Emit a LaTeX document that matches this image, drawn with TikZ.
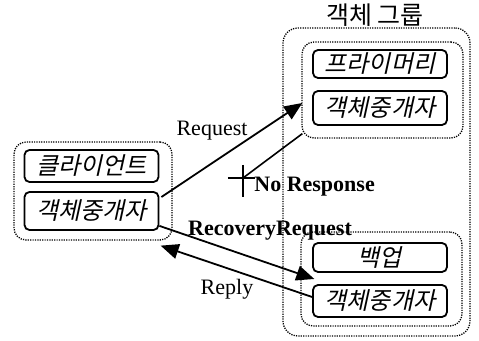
\documentclass[tikz,border=0pt]{standalone}
\usepackage{fontspec}
\setmainfont{Liberation Serif}
\newfontfamily\kor[FakeSlant=0.22]{Noto Sans CJK KR}
\newfontfamily\korup{Noto Sans CJK KR}
\usetikzlibrary{arrows.meta,positioning,calc}

\begin{document}
\begin{tikzpicture}[x=0.5pt, y=-0.5pt,
    box/.style={draw, line width=0.9pt, rounded corners=2.5pt, minimum width=67pt, inner sep=0pt, font=\kor\fontsize{12}{14}\selectfont},
    grp/.style={draw, line width=0.65pt, dash pattern=on 0.6pt off 0.6pt, rounded corners=6pt, inner sep=0pt},
    arr/.style={-{Triangle[length=9pt, width=7.5pt]}, line width=0.9pt},
    lbl/.style={font=\fontsize{11}{13}\selectfont, inner sep=0pt}
]
\useasboundingbox (0,0) rectangle (479,341);

% groups
\node[grp, rounded corners=7.5pt, minimum width=93.5pt, minimum height=154pt] (objgrp) at (376.5,182) {};
\node[font=\korup\fontsize{12.5}{14}\selectfont, inner sep=0pt] (title) at (375,15) {객체 그룹};
\node[grp, minimum width=80.5pt, minimum height=48pt] (pgrp) at (382.5,90) {};
\node[grp, minimum width=80.5pt, minimum height=47pt] (bgrp) at (381.5,279) {};
\node[grp, minimum width=79pt, minimum height=49pt] (cgrp) at (93,191) {};

% boxes
\node[box, minimum height=14pt] (prim) at (380,64) {프라이머리};
\node[box, minimum height=17pt] (pmed) at (380,108) {객체중개자};
\node[box, minimum height=14.5pt] (bak) at (380,257.5) {백업};
\node[box, minimum height=16pt] (bmed) at (380,301) {객체중개자};
\node[box, minimum height=16pt] (cli) at (91.5,166) {클라이언트};
\node[box, minimum height=19pt] (cmed) at (91.5,211) {객체중개자};

% messages
\coordinate (nr) at (243,178);
\draw[arr] ($(cmed.east)+(2,-14)$) -- ($(pgrp.west)+(1,13)$);
\node[lbl] (reqlbl) at (212,131) {Request};
\draw[line width=0.8pt] ($(pgrp.south west)+(1,-5)$) -- (nr);
\draw[line width=0.8pt] ($(nr)+(-15,0)$) -- ($(nr)+(12,0)$) ($(nr)+(0,-13)$) -- ($(nr)+(0,19)$);
\node[lbl, font=\bfseries\fontsize{11}{13}\selectfont, anchor=west] (nolbl) at (254,187) {No Response};
\draw[arr] ($(cmed.south east)+(0,-5)$) -- ($(bgrp.west)+(14,0)$);
\node[lbl, font=\bfseries\fontsize{11}{13}\selectfont] (reclbl) at (270,231) {RecoveryRequest};
\draw[arr] ($(bmed.west)+(0,-4)$) -- ($(cgrp.south east)+(-12,5)$);
\node[lbl] (replbl) at (227,289) {Reply};
\end{tikzpicture}
\end{document}
